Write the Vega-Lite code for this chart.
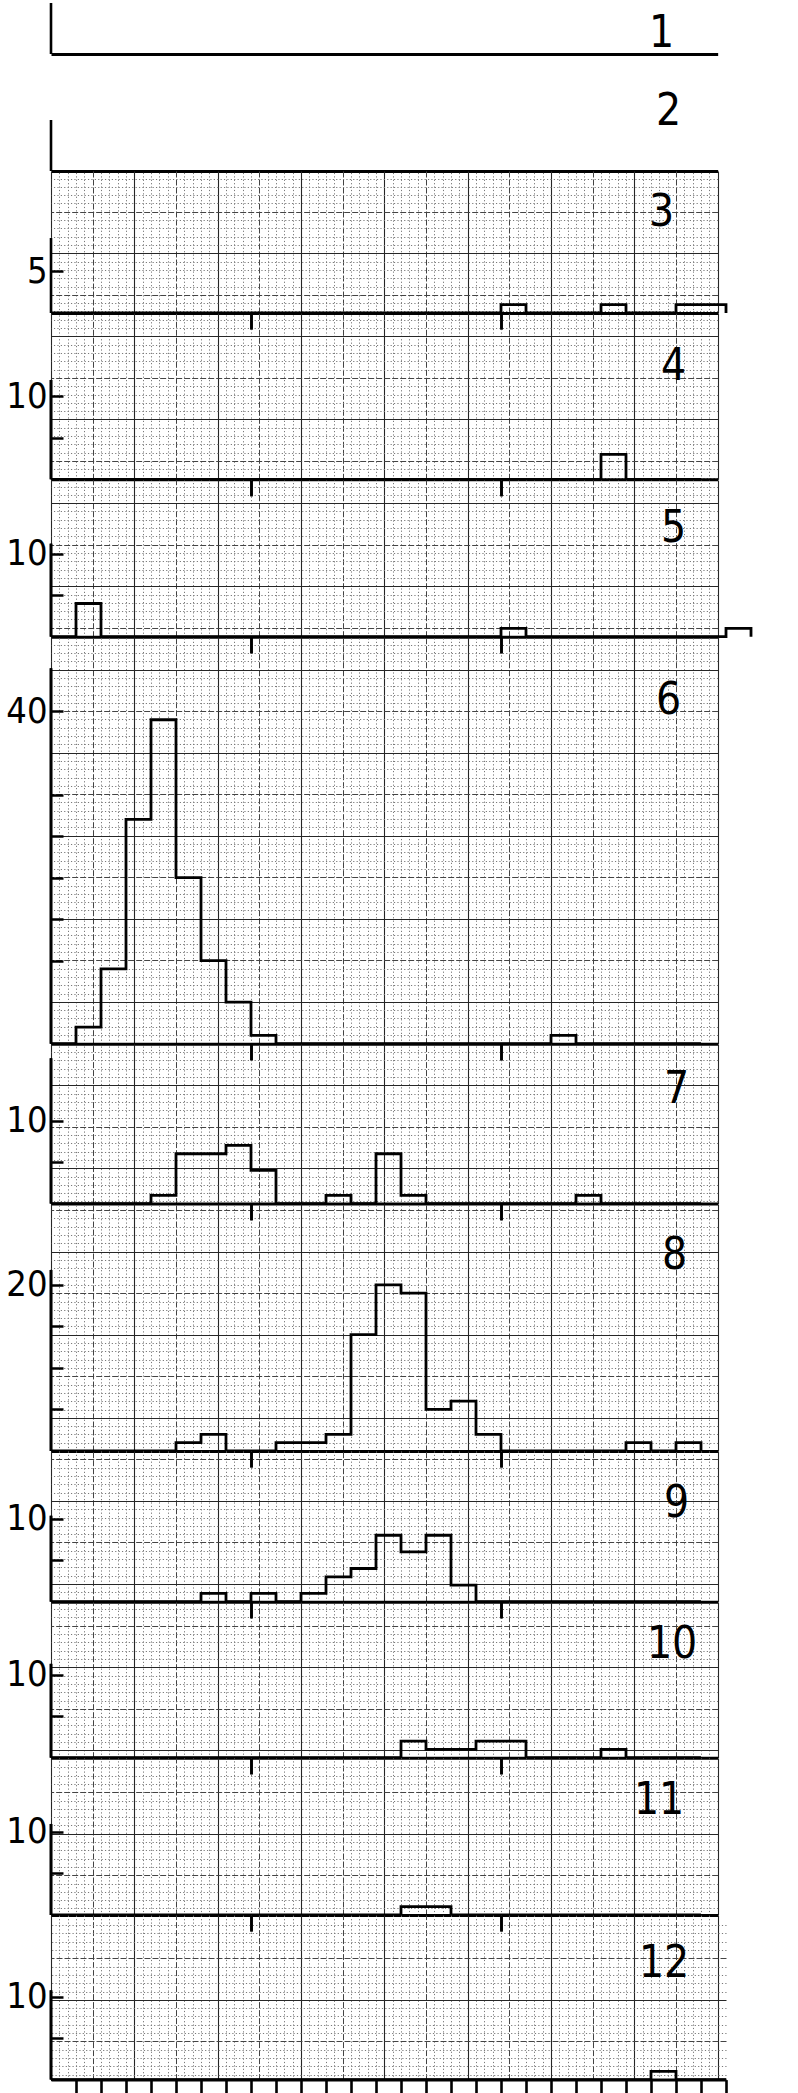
{
  "$schema": "https://vega.github.io/schema/vega-lite/v6.json",
  "background": "white",
  "padding": {"left": 5, "top": 0, "right": 5, "bottom": 0},
  "bounds": "flush",
  "spacing": 0,
  "config": {
    "view": {"stroke": null},
    "axis": {"labelFont": "Liberation Sans Narrow, DejaVu Sans Condensed, sans-serif", "labelFontSize": 36, "labelColor": "black", "labelFontWeight": "normal"},
    "text": {"font": "Liberation Sans Narrow, DejaVu Sans Condensed, sans-serif", "fontSize": 44, "color": "black", "align": "right", "baseline": "middle"}
  },
  "datasets": {
    "hist": [
      {"panel":3,"bin":2,"count":0},{"panel":3,"bin":3,"count":0},{"panel":3,"bin":4,"count":0},{"panel":3,"bin":5,"count":0},{"panel":3,"bin":6,"count":0},{"panel":3,"bin":7,"count":0},{"panel":3,"bin":8,"count":0},{"panel":3,"bin":9,"count":0},{"panel":3,"bin":10,"count":0},{"panel":3,"bin":11,"count":0},{"panel":3,"bin":12,"count":0},{"panel":3,"bin":13,"count":0},{"panel":3,"bin":14,"count":0},{"panel":3,"bin":15,"count":0},{"panel":3,"bin":16,"count":0},{"panel":3,"bin":17,"count":0},{"panel":3,"bin":18,"count":0},{"panel":3,"bin":19,"count":0},{"panel":3,"bin":20,"count":1},{"panel":3,"bin":21,"count":0},{"panel":3,"bin":22,"count":0},{"panel":3,"bin":23,"count":0},{"panel":3,"bin":24,"count":1},{"panel":3,"bin":25,"count":0},{"panel":3,"bin":26,"count":0},{"panel":3,"bin":27,"count":1},{"panel":3,"bin":28,"count":1},{"panel":3,"bin":29,"count":0},
      {"panel":4,"bin":2,"count":0},{"panel":4,"bin":3,"count":0},{"panel":4,"bin":4,"count":0},{"panel":4,"bin":5,"count":0},{"panel":4,"bin":6,"count":0},{"panel":4,"bin":7,"count":0},{"panel":4,"bin":8,"count":0},{"panel":4,"bin":9,"count":0},{"panel":4,"bin":10,"count":0},{"panel":4,"bin":11,"count":0},{"panel":4,"bin":12,"count":0},{"panel":4,"bin":13,"count":0},{"panel":4,"bin":14,"count":0},{"panel":4,"bin":15,"count":0},{"panel":4,"bin":16,"count":0},{"panel":4,"bin":17,"count":0},{"panel":4,"bin":18,"count":0},{"panel":4,"bin":19,"count":0},{"panel":4,"bin":20,"count":0},{"panel":4,"bin":21,"count":0},{"panel":4,"bin":22,"count":0},{"panel":4,"bin":23,"count":0},{"panel":4,"bin":24,"count":3},{"panel":4,"bin":25,"count":0},{"panel":4,"bin":26,"count":0},{"panel":4,"bin":27,"count":0},{"panel":4,"bin":28,"count":0},
      {"panel":5,"bin":2,"count":0},{"panel":5,"bin":3,"count":4},{"panel":5,"bin":4,"count":0},{"panel":5,"bin":5,"count":0},{"panel":5,"bin":6,"count":0},{"panel":5,"bin":7,"count":0},{"panel":5,"bin":8,"count":0},{"panel":5,"bin":9,"count":0},{"panel":5,"bin":10,"count":0},{"panel":5,"bin":11,"count":0},{"panel":5,"bin":12,"count":0},{"panel":5,"bin":13,"count":0},{"panel":5,"bin":14,"count":0},{"panel":5,"bin":15,"count":0},{"panel":5,"bin":16,"count":0},{"panel":5,"bin":17,"count":0},{"panel":5,"bin":18,"count":0},{"panel":5,"bin":19,"count":0},{"panel":5,"bin":20,"count":1},{"panel":5,"bin":21,"count":0},{"panel":5,"bin":22,"count":0},{"panel":5,"bin":23,"count":0},{"panel":5,"bin":24,"count":0},{"panel":5,"bin":25,"count":0},{"panel":5,"bin":26,"count":0},{"panel":5,"bin":27,"count":0},{"panel":5,"bin":28,"count":0},{"panel":5,"bin":29,"count":1},{"panel":5,"bin":30,"count":0},
      {"panel":6,"bin":2,"count":0},{"panel":6,"bin":3,"count":2},{"panel":6,"bin":4,"count":9},{"panel":6,"bin":5,"count":27},{"panel":6,"bin":6,"count":39},{"panel":6,"bin":7,"count":20},{"panel":6,"bin":8,"count":10},{"panel":6,"bin":9,"count":5},{"panel":6,"bin":10,"count":1},{"panel":6,"bin":11,"count":0},{"panel":6,"bin":12,"count":0},{"panel":6,"bin":13,"count":0},{"panel":6,"bin":14,"count":0},{"panel":6,"bin":15,"count":0},{"panel":6,"bin":16,"count":0},{"panel":6,"bin":17,"count":0},{"panel":6,"bin":18,"count":0},{"panel":6,"bin":19,"count":0},{"panel":6,"bin":20,"count":0},{"panel":6,"bin":21,"count":0},{"panel":6,"bin":22,"count":1},{"panel":6,"bin":23,"count":0},{"panel":6,"bin":24,"count":0},{"panel":6,"bin":25,"count":0},{"panel":6,"bin":26,"count":0},{"panel":6,"bin":27,"count":0},{"panel":6,"bin":28,"count":0},
      {"panel":7,"bin":2,"count":0},{"panel":7,"bin":3,"count":0},{"panel":7,"bin":4,"count":0},{"panel":7,"bin":5,"count":0},{"panel":7,"bin":6,"count":1},{"panel":7,"bin":7,"count":6},{"panel":7,"bin":8,"count":6},{"panel":7,"bin":9,"count":7},{"panel":7,"bin":10,"count":4},{"panel":7,"bin":11,"count":0},{"panel":7,"bin":12,"count":0},{"panel":7,"bin":13,"count":1},{"panel":7,"bin":14,"count":0},{"panel":7,"bin":15,"count":6},{"panel":7,"bin":16,"count":1},{"panel":7,"bin":17,"count":0},{"panel":7,"bin":18,"count":0},{"panel":7,"bin":19,"count":0},{"panel":7,"bin":20,"count":0},{"panel":7,"bin":21,"count":0},{"panel":7,"bin":22,"count":0},{"panel":7,"bin":23,"count":1},{"panel":7,"bin":24,"count":0},{"panel":7,"bin":25,"count":0},{"panel":7,"bin":26,"count":0},{"panel":7,"bin":27,"count":0},{"panel":7,"bin":28,"count":0},
      {"panel":8,"bin":2,"count":0},{"panel":8,"bin":3,"count":0},{"panel":8,"bin":4,"count":0},{"panel":8,"bin":5,"count":0},{"panel":8,"bin":6,"count":0},{"panel":8,"bin":7,"count":1},{"panel":8,"bin":8,"count":2},{"panel":8,"bin":9,"count":0},{"panel":8,"bin":10,"count":0},{"panel":8,"bin":11,"count":1},{"panel":8,"bin":12,"count":1},{"panel":8,"bin":13,"count":2},{"panel":8,"bin":14,"count":14},{"panel":8,"bin":15,"count":20},{"panel":8,"bin":16,"count":19},{"panel":8,"bin":17,"count":5},{"panel":8,"bin":18,"count":6},{"panel":8,"bin":19,"count":2},{"panel":8,"bin":20,"count":0},{"panel":8,"bin":21,"count":0},{"panel":8,"bin":22,"count":0},{"panel":8,"bin":23,"count":0},{"panel":8,"bin":24,"count":0},{"panel":8,"bin":25,"count":1},{"panel":8,"bin":26,"count":0},{"panel":8,"bin":27,"count":1},{"panel":8,"bin":28,"count":0},
      {"panel":9,"bin":2,"count":0},{"panel":9,"bin":3,"count":0},{"panel":9,"bin":4,"count":0},{"panel":9,"bin":5,"count":0},{"panel":9,"bin":6,"count":0},{"panel":9,"bin":7,"count":0},{"panel":9,"bin":8,"count":1},{"panel":9,"bin":9,"count":0},{"panel":9,"bin":10,"count":1},{"panel":9,"bin":11,"count":0},{"panel":9,"bin":12,"count":1},{"panel":9,"bin":13,"count":3},{"panel":9,"bin":14,"count":4},{"panel":9,"bin":15,"count":8},{"panel":9,"bin":16,"count":6},{"panel":9,"bin":17,"count":8},{"panel":9,"bin":18,"count":2},{"panel":9,"bin":19,"count":0},{"panel":9,"bin":20,"count":0},{"panel":9,"bin":21,"count":0},{"panel":9,"bin":22,"count":0},{"panel":9,"bin":23,"count":0},{"panel":9,"bin":24,"count":0},{"panel":9,"bin":25,"count":0},{"panel":9,"bin":26,"count":0},{"panel":9,"bin":27,"count":0},{"panel":9,"bin":28,"count":0},
      {"panel":10,"bin":2,"count":0},{"panel":10,"bin":3,"count":0},{"panel":10,"bin":4,"count":0},{"panel":10,"bin":5,"count":0},{"panel":10,"bin":6,"count":0},{"panel":10,"bin":7,"count":0},{"panel":10,"bin":8,"count":0},{"panel":10,"bin":9,"count":0},{"panel":10,"bin":10,"count":0},{"panel":10,"bin":11,"count":0},{"panel":10,"bin":12,"count":0},{"panel":10,"bin":13,"count":0},{"panel":10,"bin":14,"count":0},{"panel":10,"bin":15,"count":0},{"panel":10,"bin":16,"count":2},{"panel":10,"bin":17,"count":1},{"panel":10,"bin":18,"count":1},{"panel":10,"bin":19,"count":2},{"panel":10,"bin":20,"count":2},{"panel":10,"bin":21,"count":0},{"panel":10,"bin":22,"count":0},{"panel":10,"bin":23,"count":0},{"panel":10,"bin":24,"count":1},{"panel":10,"bin":25,"count":0},{"panel":10,"bin":26,"count":0},{"panel":10,"bin":27,"count":0},{"panel":10,"bin":28,"count":0},
      {"panel":11,"bin":2,"count":0},{"panel":11,"bin":3,"count":0},{"panel":11,"bin":4,"count":0},{"panel":11,"bin":5,"count":0},{"panel":11,"bin":6,"count":0},{"panel":11,"bin":7,"count":0},{"panel":11,"bin":8,"count":0},{"panel":11,"bin":9,"count":0},{"panel":11,"bin":10,"count":0},{"panel":11,"bin":11,"count":0},{"panel":11,"bin":12,"count":0},{"panel":11,"bin":13,"count":0},{"panel":11,"bin":14,"count":0},{"panel":11,"bin":15,"count":0},{"panel":11,"bin":16,"count":1},{"panel":11,"bin":17,"count":1},{"panel":11,"bin":18,"count":0},{"panel":11,"bin":19,"count":0},{"panel":11,"bin":20,"count":0},{"panel":11,"bin":21,"count":0},{"panel":11,"bin":22,"count":0},{"panel":11,"bin":23,"count":0},{"panel":11,"bin":24,"count":0},{"panel":11,"bin":25,"count":0},{"panel":11,"bin":26,"count":0},{"panel":11,"bin":27,"count":0},{"panel":11,"bin":28,"count":0},
      {"panel":12,"bin":2,"count":0},{"panel":12,"bin":3,"count":0},{"panel":12,"bin":4,"count":0},{"panel":12,"bin":5,"count":0},{"panel":12,"bin":6,"count":0},{"panel":12,"bin":7,"count":0},{"panel":12,"bin":8,"count":0},{"panel":12,"bin":9,"count":0},{"panel":12,"bin":10,"count":0},{"panel":12,"bin":11,"count":0},{"panel":12,"bin":12,"count":0},{"panel":12,"bin":13,"count":0},{"panel":12,"bin":14,"count":0},{"panel":12,"bin":15,"count":0},{"panel":12,"bin":16,"count":0},{"panel":12,"bin":17,"count":0},{"panel":12,"bin":18,"count":0},{"panel":12,"bin":19,"count":0},{"panel":12,"bin":20,"count":0},{"panel":12,"bin":21,"count":0},{"panel":12,"bin":22,"count":0},{"panel":12,"bin":23,"count":0},{"panel":12,"bin":24,"count":0},{"panel":12,"bin":25,"count":0},{"panel":12,"bin":26,"count":1},{"panel":12,"bin":27,"count":0},{"panel":12,"bin":28,"count":0},{"panel":12,"bin":29,"count":0}
    ]
  },
  "vconcat": [
    {
      "width": 666.67, "height": 54,
      "layer": [
        {
          "data": {"values": [{}]},
          "mark": {"type": "rule", "color": "black", "strokeWidth": 2.6},
          "encoding": {
            "x": {"datum": 2, "type": "quantitative", "scale": {"domain": [2, 28.6667], "nice": false, "zero": false}, "axis": {"orient": "bottom", "ticks": false, "labels": false, "grid": false, "domain": true, "domainWidth": 3, "domainColor": "black", "title": null}},
            "y": {"datum": 0, "type": "quantitative", "scale": {"domain": [0, 6.5013], "nice": false}, "axis": null},
            "y2": {"datum": 6.14}
          }
        },
        {
          "data": {"values": [{}]},
          "mark": {"type": "text"},
          "encoding": {"x": {"datum": 26.93, "type": "quantitative"}, "y": {"datum": 2.41, "type": "quantitative"}, "text": {"value": "1"}}
        }
      ]
    },
    {
      "width": 666.67, "height": 117,
      "layer": [
        {
          "data": {"values": [{}]},
          "mark": {"type": "rule", "color": "black", "strokeWidth": 2.6},
          "encoding": {
            "x": {"datum": 2, "type": "quantitative", "scale": {"domain": [2, 28.6667], "nice": false, "zero": false}, "axis": {"orient": "bottom", "ticks": false, "labels": false, "grid": false, "domain": true, "domainWidth": 3, "domainColor": "black", "title": null}},
            "y": {"datum": 0, "type": "quantitative", "scale": {"domain": [0, 14.0862], "nice": false}, "axis": null},
            "y2": {"datum": 6.14}
          }
        },
        {
          "data": {"values": [{}]},
          "mark": {"type": "text"},
          "encoding": {"x": {"datum": 27.21, "type": "quantitative"}, "y": {"datum": 7.14, "type": "quantitative"}, "text": {"value": "2"}}
        }
      ]
    },
    {
      "width": 666.67, "height": 142,
      "layer": [
        {
          "data": {"name": "hist"}, "transform": [{"filter": "datum.panel == 3"}],
          "mark": {"type": "line", "interpolate": "step-after", "color": "black", "strokeWidth": 2.8},
          "encoding": {
            "x": {"field": "bin", "type": "quantitative", "scale": {"domain": [2, 28.6667], "nice": false, "zero": false},
              "axis": {"orient": "top", "values": [2,2.3333,2.6667,3,3.3333,3.6667,4,4.3333,4.6667,5,5.3333,5.6667,6,6.3333,6.6667,7,7.3333,7.6667,8,8.3333,8.6667,9,9.3333,9.6667,10,10.3333,10.6667,11,11.3333,11.6667,12,12.3333,12.6667,13,13.3333,13.6667,14,14.3333,14.6667,15,15.3333,15.6667,16,16.3333,16.6667,17,17.3333,17.6667,18,18.3333,18.6667,19,19.3333,19.6667,20,20.3333,20.6667,21,21.3333,21.6667,22,22.3333,22.6667,23,23.3333,23.6667,24,24.3333,24.6667,25,25.3333,25.6667,26,26.3333,26.6667,27,27.3333,27.6667,28,28.3333,28.6667], "grid": true, "ticks": false, "labels": false, "domain": false, "title": null,
                "gridColor": {"condition": [{"test": "round((datum.value-2)*3)%10==0", "value": "#262626"}, {"test": "round((datum.value-2)*3)%5==0", "value": "#444444"}], "value": "#7a7a7a"},
                "gridDash": {"condition": [{"test": "round((datum.value-2)*3)%10==0", "value": []}, {"test": "round((datum.value-2)*3)%5==0", "value": [6, 2]}], "value": [1.2, 2.2]},
                "gridWidth": {"condition": {"test": "round((datum.value-2)*3)%10==0", "value": 1.1}, "value": 1}}},
            "y": {"field": "count", "type": "quantitative", "scale": {"domain": [0, 17.0961], "nice": false},
              "axis": {"orient": "right", "values": [0.1876,1.1876,2.1876,3.1876,4.1876,5.1876,6.1876,7.1876,8.1876,9.1876,10.1876,11.1876,12.1876,13.1876,14.1876,15.1876,16.1876], "grid": true, "ticks": false, "labels": false, "domain": false, "title": null,
                "gridColor": {"condition": [{"test": "round(7.1876-datum.value)%10==0", "value": "#262626"}, {"test": "round(7.1876-datum.value)%5==0", "value": "#444444"}], "value": "#7a7a7a"},
                "gridDash": {"condition": [{"test": "round(7.1876-datum.value)%10==0", "value": []}, {"test": "round(7.1876-datum.value)%5==0", "value": [6, 2]}], "value": [1.2, 2.2]},
                "gridWidth": {"condition": {"test": "round(7.1876-datum.value)%10==0", "value": 1.1}, "value": 1}}}
          }
        },
        {
          "data": {"values": [{}]},
          "mark": {"type": "rule", "color": "black", "strokeWidth": 2.6},
          "encoding": {
            "x": {"datum": 2, "type": "quantitative", "scale": {"domain": [2, 28.6667], "nice": false, "zero": false}, "axis": {"orient": "bottom", "values": [10, 20], "labels": false, "tickSize": 16, "tickWidth": 2.6, "tickColor": "black", "grid": false, "domain": true, "domainWidth": 3, "domainColor": "black", "title": null, "zindex": 1}},
            "y": {"datum": 0, "type": "quantitative", "scale": {"domain": [0, 17.0961], "nice": false}, "axis": {"orient": "left", "values": [5], "labelExpr": "datum.value == 5 ? datum.label : ''", "tickSize": -12, "tickWidth": 2.5, "tickColor": "black", "domain": false, "grid": false, "labelPadding": 16, "title": null, "zindex": 1}},
            "y2": {"datum": 9.03}
          }
        },
        {
          "data": {"values": [{}]},
          "mark": {"type": "text"},
          "encoding": {"x": {"datum": 26.93, "type": "quantitative", "axis": null}, "y": {"datum": 12.0, "type": "quantitative", "axis": null}, "text": {"value": "3"}}
        }
      ],
      "resolve": {"axis": {"x": "independent", "y": "independent"}}
    },
    {
      "width": 666.67, "height": 166.3,
      "layer": [
        {
          "data": {"name": "hist"}, "transform": [{"filter": "datum.panel == 4"}],
          "mark": {"type": "line", "interpolate": "step-after", "color": "black", "strokeWidth": 2.8},
          "encoding": {
            "x": {"field": "bin", "type": "quantitative", "scale": {"domain": [2, 28.6667], "nice": false, "zero": false},
              "axis": {"orient": "top", "values": [2,2.3333,2.6667,3,3.3333,3.6667,4,4.3333,4.6667,5,5.3333,5.6667,6,6.3333,6.6667,7,7.3333,7.6667,8,8.3333,8.6667,9,9.3333,9.6667,10,10.3333,10.6667,11,11.3333,11.6667,12,12.3333,12.6667,13,13.3333,13.6667,14,14.3333,14.6667,15,15.3333,15.6667,16,16.3333,16.6667,17,17.3333,17.6667,18,18.3333,18.6667,19,19.3333,19.6667,20,20.3333,20.6667,21,21.3333,21.6667,22,22.3333,22.6667,23,23.3333,23.6667,24,24.3333,24.6667,25,25.3333,25.6667,26,26.3333,26.6667,27,27.3333,27.6667,28,28.3333,28.6667], "grid": true, "ticks": false, "labels": false, "domain": false, "title": null,
                "gridColor": {"condition": [{"test": "round((datum.value-2)*3)%10==0", "value": "#262626"}, {"test": "round((datum.value-2)*3)%5==0", "value": "#444444"}], "value": "#7a7a7a"},
                "gridDash": {"condition": [{"test": "round((datum.value-2)*3)%10==0", "value": []}, {"test": "round((datum.value-2)*3)%5==0", "value": [6, 2]}], "value": [1.2, 2.2]},
                "gridWidth": {"condition": {"test": "round((datum.value-2)*3)%10==0", "value": 1.1}, "value": 1}}},
            "y": {"field": "count", "type": "quantitative", "scale": {"domain": [0, 20.0217], "nice": false},
              "axis": {"orient": "right", "values": [0.2093,1.2093,2.2093,3.2093,4.2093,5.2093,6.2093,7.2093,8.2093,9.2093,10.2093,11.2093,12.2093,13.2093,14.2093,15.2093,16.2093,17.2093,18.2093,19.2093], "grid": true, "ticks": false, "labels": false, "domain": false, "title": null,
                "gridColor": {"condition": [{"test": "round(27.2093-datum.value)%10==0", "value": "#262626"}, {"test": "round(27.2093-datum.value)%5==0", "value": "#444444"}], "value": "#7a7a7a"},
                "gridDash": {"condition": [{"test": "round(27.2093-datum.value)%10==0", "value": []}, {"test": "round(27.2093-datum.value)%5==0", "value": [6, 2]}], "value": [1.2, 2.2]},
                "gridWidth": {"condition": {"test": "round(27.2093-datum.value)%10==0", "value": 1.1}, "value": 1}}}
          }
        },
        {
          "data": {"values": [{}]},
          "mark": {"type": "rule", "color": "black", "strokeWidth": 2.6},
          "encoding": {
            "x": {"datum": 2, "type": "quantitative", "scale": {"domain": [2, 28.6667], "nice": false, "zero": false}, "axis": {"orient": "bottom", "values": [10, 20], "labels": false, "tickSize": 16, "tickWidth": 2.6, "tickColor": "black", "grid": false, "domain": true, "domainWidth": 3, "domainColor": "black", "title": null, "zindex": 1}},
            "y": {"datum": 0, "type": "quantitative", "scale": {"domain": [0, 20.0217], "nice": false}, "axis": {"orient": "left", "values": [5, 10], "labelExpr": "datum.value == 10 ? datum.label : ''", "tickSize": -12, "tickWidth": 2.5, "tickColor": "black", "domain": false, "grid": false, "labelPadding": 16, "title": null, "zindex": 1}},
            "y2": {"datum": 11.96}
          }
        },
        {
          "data": {"values": [{}]},
          "mark": {"type": "rule", "color": "black", "strokeWidth": 2.6},
          "encoding": {
            "x": {"datum": 2, "type": "quantitative", "scale": {"domain": [2, 28.6667], "nice": false, "zero": false}, "axis": {"orient": "top", "values": [10, 20], "labels": false, "tickSize": -16, "tickWidth": 2.6, "tickColor": "black", "grid": false, "domain": false, "title": null, "zindex": 1}},
            "y": {"datum": 0, "type": "quantitative", "scale": {"domain": [0, 20.0217], "nice": false}, "axis": null},
            "y2": {"datum": 11.96}
          }
        },
        {
          "data": {"values": [{}]},
          "mark": {"type": "text"},
          "encoding": {"x": {"datum": 27.41, "type": "quantitative", "axis": null}, "y": {"datum": 13.56, "type": "quantitative", "axis": null}, "text": {"value": "4"}}
        }
      ],
      "resolve": {"axis": {"x": "independent", "y": "independent"}}
    },
    {
      "width": 666.67, "height": 156.7,
      "layer": [
        {
          "data": {"name": "hist"}, "transform": [{"filter": "datum.panel == 5"}],
          "mark": {"type": "line", "interpolate": "step-after", "color": "black", "strokeWidth": 2.8},
          "encoding": {
            "x": {"field": "bin", "type": "quantitative", "scale": {"domain": [2, 28.6667], "nice": false, "zero": false},
              "axis": {"orient": "top", "values": [2,2.3333,2.6667,3,3.3333,3.6667,4,4.3333,4.6667,5,5.3333,5.6667,6,6.3333,6.6667,7,7.3333,7.6667,8,8.3333,8.6667,9,9.3333,9.6667,10,10.3333,10.6667,11,11.3333,11.6667,12,12.3333,12.6667,13,13.3333,13.6667,14,14.3333,14.6667,15,15.3333,15.6667,16,16.3333,16.6667,17,17.3333,17.6667,18,18.3333,18.6667,19,19.3333,19.6667,20,20.3333,20.6667,21,21.3333,21.6667,22,22.3333,22.6667,23,23.3333,23.6667,24,24.3333,24.6667,25,25.3333,25.6667,26,26.3333,26.6667,27,27.3333,27.6667,28,28.3333,28.6667], "grid": true, "ticks": false, "labels": false, "domain": false, "title": null,
                "gridColor": {"condition": [{"test": "round((datum.value-2)*3)%10==0", "value": "#262626"}, {"test": "round((datum.value-2)*3)%5==0", "value": "#444444"}], "value": "#7a7a7a"},
                "gridDash": {"condition": [{"test": "round((datum.value-2)*3)%10==0", "value": []}, {"test": "round((datum.value-2)*3)%5==0", "value": [6, 2]}], "value": [1.2, 2.2]},
                "gridWidth": {"condition": {"test": "round((datum.value-2)*3)%10==0", "value": 1.1}, "value": 1}}},
            "y": {"field": "count", "type": "quantitative", "scale": {"domain": [0, 18.8659], "nice": false},
              "axis": {"orient": "right", "values": [0.0751,1.0751,2.0751,3.0751,4.0751,5.0751,6.0751,7.0751,8.0751,9.0751,10.0751,11.0751,12.0751,13.0751,14.0751,15.0751,16.0751,17.0751,18.0751], "grid": true, "ticks": false, "labels": false, "domain": false, "title": null,
                "gridColor": {"condition": [{"test": "round(46.0751-datum.value)%10==0", "value": "#262626"}, {"test": "round(46.0751-datum.value)%5==0", "value": "#444444"}], "value": "#7a7a7a"},
                "gridDash": {"condition": [{"test": "round(46.0751-datum.value)%10==0", "value": []}, {"test": "round(46.0751-datum.value)%5==0", "value": [6, 2]}], "value": [1.2, 2.2]},
                "gridWidth": {"condition": {"test": "round(46.0751-datum.value)%10==0", "value": 1.1}, "value": 1}}}
          }
        },
        {
          "data": {"values": [{}]},
          "mark": {"type": "rule", "color": "black", "strokeWidth": 2.6},
          "encoding": {
            "x": {"datum": 2, "type": "quantitative", "scale": {"domain": [2, 28.6667], "nice": false, "zero": false}, "axis": {"orient": "bottom", "values": [10, 20], "labels": false, "tickSize": 16, "tickWidth": 2.6, "tickColor": "black", "grid": false, "domain": true, "domainWidth": 3, "domainColor": "black", "title": null, "zindex": 1}},
            "y": {"datum": 0, "type": "quantitative", "scale": {"domain": [0, 18.8659], "nice": false}, "axis": {"orient": "left", "values": [5, 10], "labelExpr": "datum.value == 10 ? datum.label : ''", "tickSize": -12, "tickWidth": 2.5, "tickColor": "black", "domain": false, "grid": false, "labelPadding": 16, "title": null, "zindex": 1}},
            "y2": {"datum": 11.2}
          }
        },
        {
          "data": {"values": [{}]},
          "mark": {"type": "rule", "color": "black", "strokeWidth": 2.6},
          "encoding": {
            "x": {"datum": 2, "type": "quantitative", "scale": {"domain": [2, 28.6667], "nice": false, "zero": false}, "axis": {"orient": "top", "values": [10, 20], "labels": false, "tickSize": -16, "tickWidth": 2.6, "tickColor": "black", "grid": false, "domain": false, "title": null, "zindex": 1}},
            "y": {"datum": 0, "type": "quantitative", "scale": {"domain": [0, 18.8659], "nice": false}, "axis": null},
            "y2": {"datum": 11.2}
          }
        },
        {
          "data": {"values": [{}]},
          "mark": {"type": "text"},
          "encoding": {"x": {"datum": 27.41, "type": "quantitative", "axis": null}, "y": {"datum": 12.97, "type": "quantitative", "axis": null}, "text": {"value": "5"}}
        }
      ],
      "resolve": {"axis": {"x": "independent", "y": "independent"}}
    },
    {
      "width": 666.67, "height": 406.7,
      "layer": [
        {
          "data": {"name": "hist"}, "transform": [{"filter": "datum.panel == 6"}],
          "mark": {"type": "line", "interpolate": "step-after", "color": "black", "strokeWidth": 2.8},
          "encoding": {
            "x": {"field": "bin", "type": "quantitative", "scale": {"domain": [2, 28.6667], "nice": false, "zero": false},
              "axis": {"orient": "top", "values": [2,2.3333,2.6667,3,3.3333,3.6667,4,4.3333,4.6667,5,5.3333,5.6667,6,6.3333,6.6667,7,7.3333,7.6667,8,8.3333,8.6667,9,9.3333,9.6667,10,10.3333,10.6667,11,11.3333,11.6667,12,12.3333,12.6667,13,13.3333,13.6667,14,14.3333,14.6667,15,15.3333,15.6667,16,16.3333,16.6667,17,17.3333,17.6667,18,18.3333,18.6667,19,19.3333,19.6667,20,20.3333,20.6667,21,21.3333,21.6667,22,22.3333,22.6667,23,23.3333,23.6667,24,24.3333,24.6667,25,25.3333,25.6667,26,26.3333,26.6667,27,27.3333,27.6667,28,28.3333,28.6667], "grid": true, "ticks": false, "labels": false, "domain": false, "title": null,
                "gridColor": {"condition": [{"test": "round((datum.value-2)*3)%10==0", "value": "#262626"}, {"test": "round((datum.value-2)*3)%5==0", "value": "#444444"}], "value": "#7a7a7a"},
                "gridDash": {"condition": [{"test": "round((datum.value-2)*3)%10==0", "value": []}, {"test": "round((datum.value-2)*3)%5==0", "value": [6, 2]}], "value": [1.2, 2.2]},
                "gridWidth": {"condition": {"test": "round((datum.value-2)*3)%10==0", "value": 1.1}, "value": 1}}},
            "y": {"field": "count", "type": "quantitative", "scale": {"domain": [0, 48.9646], "nice": false},
              "axis": {"orient": "right", "values": [0.0397,1.0397,2.0397,3.0397,4.0397,5.0397,6.0397,7.0397,8.0397,9.0397,10.0397,11.0397,12.0397,13.0397,14.0397,15.0397,16.0397,17.0397,18.0397,19.0397,20.0397,21.0397,22.0397,23.0397,24.0397,25.0397,26.0397,27.0397,28.0397,29.0397,30.0397,31.0397,32.0397,33.0397,34.0397,35.0397,36.0397,37.0397,38.0397,39.0397,40.0397,41.0397,42.0397,43.0397,44.0397,45.0397,46.0397,47.0397,48.0397], "grid": true, "ticks": false, "labels": false, "domain": false, "title": null,
                "gridColor": {"condition": [{"test": "round(95.0397-datum.value)%10==0", "value": "#262626"}, {"test": "round(95.0397-datum.value)%5==0", "value": "#444444"}], "value": "#7a7a7a"},
                "gridDash": {"condition": [{"test": "round(95.0397-datum.value)%10==0", "value": []}, {"test": "round(95.0397-datum.value)%5==0", "value": [6, 2]}], "value": [1.2, 2.2]},
                "gridWidth": {"condition": {"test": "round(95.0397-datum.value)%10==0", "value": 1.1}, "value": 1}}}
          }
        },
        {
          "data": {"values": [{}]},
          "mark": {"type": "rule", "color": "black", "strokeWidth": 2.6},
          "encoding": {
            "x": {"datum": 2, "type": "quantitative", "scale": {"domain": [2, 28.6667], "nice": false, "zero": false}, "axis": {"orient": "bottom", "values": [10, 20], "labels": false, "tickSize": 16, "tickWidth": 2.6, "tickColor": "black", "grid": false, "domain": true, "domainWidth": 3, "domainColor": "black", "title": null, "zindex": 1}},
            "y": {"datum": 0, "type": "quantitative", "scale": {"domain": [0, 48.9646], "nice": false}, "axis": {"orient": "left", "values": [10, 15, 20, 25, 30, 40], "labelExpr": "datum.value == 40 ? datum.label : ''", "tickSize": -12, "tickWidth": 2.5, "tickColor": "black", "domain": false, "grid": false, "labelPadding": 16, "title": null, "zindex": 1}},
            "y2": {"datum": 45.2}
          }
        },
        {
          "data": {"values": [{}]},
          "mark": {"type": "rule", "color": "black", "strokeWidth": 2.6},
          "encoding": {
            "x": {"datum": 2, "type": "quantitative", "scale": {"domain": [2, 28.6667], "nice": false, "zero": false}, "axis": {"orient": "top", "values": [10, 20], "labels": false, "tickSize": -16, "tickWidth": 2.6, "tickColor": "black", "grid": false, "domain": false, "title": null, "zindex": 1}},
            "y": {"datum": 0, "type": "quantitative", "scale": {"domain": [0, 48.9646], "nice": false}, "axis": null},
            "y2": {"datum": 45.2}
          }
        },
        {
          "data": {"values": [{}]},
          "mark": {"type": "text"},
          "encoding": {"x": {"datum": 27.21, "type": "quantitative", "axis": null}, "y": {"datum": 41.26, "type": "quantitative", "axis": null}, "text": {"value": "6"}}
        }
      ],
      "resolve": {"axis": {"x": "independent", "y": "independent"}}
    },
    {
      "width": 666.67, "height": 159.6,
      "layer": [
        {
          "data": {"name": "hist"}, "transform": [{"filter": "datum.panel == 7"}],
          "mark": {"type": "line", "interpolate": "step-after", "color": "black", "strokeWidth": 2.8},
          "encoding": {
            "x": {"field": "bin", "type": "quantitative", "scale": {"domain": [2, 28.6667], "nice": false, "zero": false},
              "axis": {"orient": "top", "values": [2,2.3333,2.6667,3,3.3333,3.6667,4,4.3333,4.6667,5,5.3333,5.6667,6,6.3333,6.6667,7,7.3333,7.6667,8,8.3333,8.6667,9,9.3333,9.6667,10,10.3333,10.6667,11,11.3333,11.6667,12,12.3333,12.6667,13,13.3333,13.6667,14,14.3333,14.6667,15,15.3333,15.6667,16,16.3333,16.6667,17,17.3333,17.6667,18,18.3333,18.6667,19,19.3333,19.6667,20,20.3333,20.6667,21,21.3333,21.6667,22,22.3333,22.6667,23,23.3333,23.6667,24,24.3333,24.6667,25,25.3333,25.6667,26,26.3333,26.6667,27,27.3333,27.6667,28,28.3333,28.6667], "grid": true, "ticks": false, "labels": false, "domain": false, "title": null,
                "gridColor": {"condition": [{"test": "round((datum.value-2)*3)%10==0", "value": "#262626"}, {"test": "round((datum.value-2)*3)%5==0", "value": "#444444"}], "value": "#7a7a7a"},
                "gridDash": {"condition": [{"test": "round((datum.value-2)*3)%10==0", "value": []}, {"test": "round((datum.value-2)*3)%5==0", "value": [6, 2]}], "value": [1.2, 2.2]},
                "gridWidth": {"condition": {"test": "round((datum.value-2)*3)%10==0", "value": 1.1}, "value": 1}}},
            "y": {"field": "count", "type": "quantitative", "scale": {"domain": [0, 19.215], "nice": false},
              "axis": {"orient": "right", "values": [0.2547,1.2547,2.2547,3.2547,4.2547,5.2547,6.2547,7.2547,8.2547,9.2547,10.2547,11.2547,12.2547,13.2547,14.2547,15.2547,16.2547,17.2547,18.2547], "grid": true, "ticks": false, "labels": false, "domain": false, "title": null,
                "gridColor": {"condition": [{"test": "round(114.2547-datum.value)%10==0", "value": "#262626"}, {"test": "round(114.2547-datum.value)%5==0", "value": "#444444"}], "value": "#7a7a7a"},
                "gridDash": {"condition": [{"test": "round(114.2547-datum.value)%10==0", "value": []}, {"test": "round(114.2547-datum.value)%5==0", "value": [6, 2]}], "value": [1.2, 2.2]},
                "gridWidth": {"condition": {"test": "round(114.2547-datum.value)%10==0", "value": 1.1}, "value": 1}}}
          }
        },
        {
          "data": {"values": [{}]},
          "mark": {"type": "rule", "color": "black", "strokeWidth": 2.6},
          "encoding": {
            "x": {"datum": 2, "type": "quantitative", "scale": {"domain": [2, 28.6667], "nice": false, "zero": false}, "axis": {"orient": "bottom", "values": [10, 20], "labels": false, "tickSize": 16, "tickWidth": 2.6, "tickColor": "black", "grid": false, "domain": true, "domainWidth": 3, "domainColor": "black", "title": null, "zindex": 1}},
            "y": {"datum": 0, "type": "quantitative", "scale": {"domain": [0, 19.215], "nice": false}, "axis": {"orient": "left", "values": [5, 10], "labelExpr": "datum.value == 10 ? datum.label : ''", "tickSize": -12, "tickWidth": 2.5, "tickColor": "black", "domain": false, "grid": false, "labelPadding": 16, "title": null, "zindex": 1}},
            "y2": {"datum": 17.5}
          }
        },
        {
          "data": {"values": [{}]},
          "mark": {"type": "rule", "color": "black", "strokeWidth": 2.6},
          "encoding": {
            "x": {"datum": 2, "type": "quantitative", "scale": {"domain": [2, 28.6667], "nice": false, "zero": false}, "axis": {"orient": "top", "values": [10, 20], "labels": false, "tickSize": -16, "tickWidth": 2.6, "tickColor": "black", "grid": false, "domain": false, "title": null, "zindex": 1}},
            "y": {"datum": 0, "type": "quantitative", "scale": {"domain": [0, 19.215], "nice": false}, "axis": null},
            "y2": {"datum": 17.5}
          }
        },
        {
          "data": {"values": [{}]},
          "mark": {"type": "text"},
          "encoding": {"x": {"datum": 27.53, "type": "quantitative", "axis": null}, "y": {"datum": 13.64, "type": "quantitative", "axis": null}, "text": {"value": "7"}}
        }
      ],
      "resolve": {"axis": {"x": "independent", "y": "independent"}}
    },
    {
      "width": 666.67, "height": 247,
      "layer": [
        {
          "data": {"name": "hist"}, "transform": [{"filter": "datum.panel == 8"}],
          "mark": {"type": "line", "interpolate": "step-after", "color": "black", "strokeWidth": 2.8},
          "encoding": {
            "x": {"field": "bin", "type": "quantitative", "scale": {"domain": [2, 28.6667], "nice": false, "zero": false},
              "axis": {"orient": "top", "values": [2,2.3333,2.6667,3,3.3333,3.6667,4,4.3333,4.6667,5,5.3333,5.6667,6,6.3333,6.6667,7,7.3333,7.6667,8,8.3333,8.6667,9,9.3333,9.6667,10,10.3333,10.6667,11,11.3333,11.6667,12,12.3333,12.6667,13,13.3333,13.6667,14,14.3333,14.6667,15,15.3333,15.6667,16,16.3333,16.6667,17,17.3333,17.6667,18,18.3333,18.6667,19,19.3333,19.6667,20,20.3333,20.6667,21,21.3333,21.6667,22,22.3333,22.6667,23,23.3333,23.6667,24,24.3333,24.6667,25,25.3333,25.6667,26,26.3333,26.6667,27,27.3333,27.6667,28,28.3333,28.6667], "grid": true, "ticks": false, "labels": false, "domain": false, "title": null,
                "gridColor": {"condition": [{"test": "round((datum.value-2)*3)%10==0", "value": "#262626"}, {"test": "round((datum.value-2)*3)%5==0", "value": "#444444"}], "value": "#7a7a7a"},
                "gridDash": {"condition": [{"test": "round((datum.value-2)*3)%10==0", "value": []}, {"test": "round((datum.value-2)*3)%5==0", "value": [6, 2]}], "value": [1.2, 2.2]},
                "gridWidth": {"condition": {"test": "round((datum.value-2)*3)%10==0", "value": 1.1}, "value": 1}}},
            "y": {"field": "count", "type": "quantitative", "scale": {"domain": [0, 29.7375], "nice": false},
              "axis": {"orient": "right", "values": [0.9923,1.9923,2.9923,3.9923,4.9923,5.9923,6.9923,7.9923,8.9923,9.9923,10.9923,11.9923,12.9923,13.9923,14.9923,15.9923,16.9923,17.9923,18.9923,19.9923,20.9923,21.9923,22.9923,23.9923,24.9923,25.9923,26.9923,27.9923,28.9923], "grid": true, "ticks": false, "labels": false, "domain": false, "title": null,
                "gridColor": {"condition": [{"test": "round(143.9923-datum.value)%10==0", "value": "#262626"}, {"test": "round(143.9923-datum.value)%5==0", "value": "#444444"}], "value": "#7a7a7a"},
                "gridDash": {"condition": [{"test": "round(143.9923-datum.value)%10==0", "value": []}, {"test": "round(143.9923-datum.value)%5==0", "value": [6, 2]}], "value": [1.2, 2.2]},
                "gridWidth": {"condition": {"test": "round(143.9923-datum.value)%10==0", "value": 1.1}, "value": 1}}}
          }
        },
        {
          "data": {"values": [{}]},
          "mark": {"type": "rule", "color": "black", "strokeWidth": 2.6},
          "encoding": {
            "x": {"datum": 2, "type": "quantitative", "scale": {"domain": [2, 28.6667], "nice": false, "zero": false}, "axis": {"orient": "bottom", "values": [10, 20], "labels": false, "tickSize": 16, "tickWidth": 2.6, "tickColor": "black", "grid": false, "domain": true, "domainWidth": 3, "domainColor": "black", "title": null, "zindex": 1}},
            "y": {"datum": 0, "type": "quantitative", "scale": {"domain": [0, 29.7375], "nice": false}, "axis": {"orient": "left", "values": [5, 10, 15, 20], "labelExpr": "datum.value == 20 ? datum.label : ''", "tickSize": -12, "tickWidth": 2.5, "tickColor": "black", "domain": false, "grid": false, "labelPadding": 16, "title": null, "zindex": 1}},
            "y2": {"datum": 21.8}
          }
        },
        {
          "data": {"values": [{}]},
          "mark": {"type": "rule", "color": "black", "strokeWidth": 2.6},
          "encoding": {
            "x": {"datum": 2, "type": "quantitative", "scale": {"domain": [2, 28.6667], "nice": false, "zero": false}, "axis": {"orient": "top", "values": [10, 20], "labels": false, "tickSize": -16, "tickWidth": 2.6, "tickColor": "black", "grid": false, "domain": false, "title": null, "zindex": 1}},
            "y": {"datum": 0, "type": "quantitative", "scale": {"domain": [0, 29.7375], "nice": false}, "axis": null},
            "y2": {"datum": 21.8}
          }
        },
        {
          "data": {"values": [{}]},
          "mark": {"type": "text"},
          "encoding": {"x": {"datum": 27.45, "type": "quantitative", "axis": null}, "y": {"datum": 23.51, "type": "quantitative", "axis": null}, "text": {"value": "8"}}
        }
      ],
      "resolve": {"axis": {"x": "independent", "y": "independent"}}
    },
    {
      "width": 666.67, "height": 150.7,
      "layer": [
        {
          "data": {"name": "hist"}, "transform": [{"filter": "datum.panel == 9"}],
          "mark": {"type": "line", "interpolate": "step-after", "color": "black", "strokeWidth": 2.8},
          "encoding": {
            "x": {"field": "bin", "type": "quantitative", "scale": {"domain": [2, 28.6667], "nice": false, "zero": false},
              "axis": {"orient": "top", "values": [2,2.3333,2.6667,3,3.3333,3.6667,4,4.3333,4.6667,5,5.3333,5.6667,6,6.3333,6.6667,7,7.3333,7.6667,8,8.3333,8.6667,9,9.3333,9.6667,10,10.3333,10.6667,11,11.3333,11.6667,12,12.3333,12.6667,13,13.3333,13.6667,14,14.3333,14.6667,15,15.3333,15.6667,16,16.3333,16.6667,17,17.3333,17.6667,18,18.3333,18.6667,19,19.3333,19.6667,20,20.3333,20.6667,21,21.3333,21.6667,22,22.3333,22.6667,23,23.3333,23.6667,24,24.3333,24.6667,25,25.3333,25.6667,26,26.3333,26.6667,27,27.3333,27.6667,28,28.3333,28.6667], "grid": true, "ticks": false, "labels": false, "domain": false, "title": null,
                "gridColor": {"condition": [{"test": "round((datum.value-2)*3)%10==0", "value": "#262626"}, {"test": "round((datum.value-2)*3)%5==0", "value": "#444444"}], "value": "#7a7a7a"},
                "gridDash": {"condition": [{"test": "round((datum.value-2)*3)%10==0", "value": []}, {"test": "round((datum.value-2)*3)%5==0", "value": [6, 2]}], "value": [1.2, 2.2]},
                "gridWidth": {"condition": {"test": "round((datum.value-2)*3)%10==0", "value": 1.1}, "value": 1}}},
            "y": {"field": "count", "type": "quantitative", "scale": {"domain": [0, 18.1435], "nice": false},
              "axis": {"orient": "right", "values": [0.1358,1.1358,2.1358,3.1358,4.1358,5.1358,6.1358,7.1358,8.1358,9.1358,10.1358,11.1358,12.1358,13.1358,14.1358,15.1358,16.1358,17.1358], "grid": true, "ticks": false, "labels": false, "domain": false, "title": null,
                "gridColor": {"condition": [{"test": "round(162.1358-datum.value)%10==0", "value": "#262626"}, {"test": "round(162.1358-datum.value)%5==0", "value": "#444444"}], "value": "#7a7a7a"},
                "gridDash": {"condition": [{"test": "round(162.1358-datum.value)%10==0", "value": []}, {"test": "round(162.1358-datum.value)%5==0", "value": [6, 2]}], "value": [1.2, 2.2]},
                "gridWidth": {"condition": {"test": "round(162.1358-datum.value)%10==0", "value": 1.1}, "value": 1}}}
          }
        },
        {
          "data": {"values": [{}]},
          "mark": {"type": "rule", "color": "black", "strokeWidth": 2.6},
          "encoding": {
            "x": {"datum": 2, "type": "quantitative", "scale": {"domain": [2, 28.6667], "nice": false, "zero": false}, "axis": {"orient": "bottom", "values": [10, 20], "labels": false, "tickSize": 16, "tickWidth": 2.6, "tickColor": "black", "grid": false, "domain": true, "domainWidth": 3, "domainColor": "black", "title": null, "zindex": 1}},
            "y": {"datum": 0, "type": "quantitative", "scale": {"domain": [0, 18.1435], "nice": false}, "axis": {"orient": "left", "values": [5, 10], "labelExpr": "datum.value == 10 ? datum.label : ''", "tickSize": -12, "tickWidth": 2.5, "tickColor": "black", "domain": false, "grid": false, "labelPadding": 16, "title": null, "zindex": 1}},
            "y2": {"datum": 10.35}
          }
        },
        {
          "data": {"values": [{}]},
          "mark": {"type": "rule", "color": "black", "strokeWidth": 2.6},
          "encoding": {
            "x": {"datum": 2, "type": "quantitative", "scale": {"domain": [2, 28.6667], "nice": false, "zero": false}, "axis": {"orient": "top", "values": [10, 20], "labels": false, "tickSize": -16, "tickWidth": 2.6, "tickColor": "black", "grid": false, "domain": false, "title": null, "zindex": 1}},
            "y": {"datum": 0, "type": "quantitative", "scale": {"domain": [0, 18.1435], "nice": false}, "axis": null},
            "y2": {"datum": 10.35}
          }
        },
        {
          "data": {"values": [{}]},
          "mark": {"type": "text"},
          "encoding": {"x": {"datum": 27.53, "type": "quantitative", "axis": null}, "y": {"datum": 11.74, "type": "quantitative", "axis": null}, "text": {"value": "9"}}
        }
      ],
      "resolve": {"axis": {"x": "independent", "y": "independent"}}
    },
    {
      "width": 666.67, "height": 155.7,
      "layer": [
        {
          "data": {"name": "hist"}, "transform": [{"filter": "datum.panel == 10"}],
          "mark": {"type": "line", "interpolate": "step-after", "color": "black", "strokeWidth": 2.8},
          "encoding": {
            "x": {"field": "bin", "type": "quantitative", "scale": {"domain": [2, 28.6667], "nice": false, "zero": false},
              "axis": {"orient": "top", "values": [2,2.3333,2.6667,3,3.3333,3.6667,4,4.3333,4.6667,5,5.3333,5.6667,6,6.3333,6.6667,7,7.3333,7.6667,8,8.3333,8.6667,9,9.3333,9.6667,10,10.3333,10.6667,11,11.3333,11.6667,12,12.3333,12.6667,13,13.3333,13.6667,14,14.3333,14.6667,15,15.3333,15.6667,16,16.3333,16.6667,17,17.3333,17.6667,18,18.3333,18.6667,19,19.3333,19.6667,20,20.3333,20.6667,21,21.3333,21.6667,22,22.3333,22.6667,23,23.3333,23.6667,24,24.3333,24.6667,25,25.3333,25.6667,26,26.3333,26.6667,27,27.3333,27.6667,28,28.3333,28.6667], "grid": true, "ticks": false, "labels": false, "domain": false, "title": null,
                "gridColor": {"condition": [{"test": "round((datum.value-2)*3)%10==0", "value": "#262626"}, {"test": "round((datum.value-2)*3)%5==0", "value": "#444444"}], "value": "#7a7a7a"},
                "gridDash": {"condition": [{"test": "round((datum.value-2)*3)%10==0", "value": []}, {"test": "round((datum.value-2)*3)%5==0", "value": [6, 2]}], "value": [1.2, 2.2]},
                "gridWidth": {"condition": {"test": "round((datum.value-2)*3)%10==0", "value": 1.1}, "value": 1}}},
            "y": {"field": "count", "type": "quantitative", "scale": {"domain": [0, 18.7455], "nice": false},
              "axis": {"orient": "right", "values": [0.881,1.881,2.881,3.881,4.881,5.881,6.881,7.881,8.881,9.881,10.881,11.881,12.881,13.881,14.881,15.881,16.881,17.881], "grid": true, "ticks": false, "labels": false, "domain": false, "title": null,
                "gridColor": {"condition": [{"test": "round(180.881-datum.value)%10==0", "value": "#262626"}, {"test": "round(180.881-datum.value)%5==0", "value": "#444444"}], "value": "#7a7a7a"},
                "gridDash": {"condition": [{"test": "round(180.881-datum.value)%10==0", "value": []}, {"test": "round(180.881-datum.value)%5==0", "value": [6, 2]}], "value": [1.2, 2.2]},
                "gridWidth": {"condition": {"test": "round(180.881-datum.value)%10==0", "value": 1.1}, "value": 1}}}
          }
        },
        {
          "data": {"values": [{}]},
          "mark": {"type": "rule", "color": "black", "strokeWidth": 2.6},
          "encoding": {
            "x": {"datum": 2, "type": "quantitative", "scale": {"domain": [2, 28.6667], "nice": false, "zero": false}, "axis": {"orient": "bottom", "values": [10, 20], "labels": false, "tickSize": 16, "tickWidth": 2.6, "tickColor": "black", "grid": false, "domain": true, "domainWidth": 3, "domainColor": "black", "title": null, "zindex": 1}},
            "y": {"datum": 0, "type": "quantitative", "scale": {"domain": [0, 18.7455], "nice": false}, "axis": {"orient": "left", "values": [5, 10], "labelExpr": "datum.value == 10 ? datum.label : ''", "tickSize": -12, "tickWidth": 2.5, "tickColor": "black", "domain": false, "grid": false, "labelPadding": 16, "title": null, "zindex": 1}},
            "y2": {"datum": 11.3}
          }
        },
        {
          "data": {"values": [{}]},
          "mark": {"type": "rule", "color": "black", "strokeWidth": 2.6},
          "encoding": {
            "x": {"datum": 2, "type": "quantitative", "scale": {"domain": [2, 28.6667], "nice": false, "zero": false}, "axis": {"orient": "top", "values": [10, 20], "labels": false, "tickSize": -16, "tickWidth": 2.6, "tickColor": "black", "grid": false, "domain": false, "title": null, "zindex": 1}},
            "y": {"datum": 0, "type": "quantitative", "scale": {"domain": [0, 18.7455], "nice": false}, "axis": null},
            "y2": {"datum": 11.3}
          }
        },
        {
          "data": {"values": [{}]},
          "mark": {"type": "text"},
          "encoding": {"x": {"datum": 27.85, "type": "quantitative", "axis": null}, "y": {"datum": 13.53, "type": "quantitative", "axis": null}, "text": {"value": "10"}}
        }
      ],
      "resolve": {"axis": {"x": "independent", "y": "independent"}}
    },
    {
      "width": 666.67, "height": 157,
      "layer": [
        {
          "data": {"name": "hist"}, "transform": [{"filter": "datum.panel == 11"}],
          "mark": {"type": "line", "interpolate": "step-after", "color": "black", "strokeWidth": 2.8},
          "encoding": {
            "x": {"field": "bin", "type": "quantitative", "scale": {"domain": [2, 28.6667], "nice": false, "zero": false},
              "axis": {"orient": "top", "values": [2,2.3333,2.6667,3,3.3333,3.6667,4,4.3333,4.6667,5,5.3333,5.6667,6,6.3333,6.6667,7,7.3333,7.6667,8,8.3333,8.6667,9,9.3333,9.6667,10,10.3333,10.6667,11,11.3333,11.6667,12,12.3333,12.6667,13,13.3333,13.6667,14,14.3333,14.6667,15,15.3333,15.6667,16,16.3333,16.6667,17,17.3333,17.6667,18,18.3333,18.6667,19,19.3333,19.6667,20,20.3333,20.6667,21,21.3333,21.6667,22,22.3333,22.6667,23,23.3333,23.6667,24,24.3333,24.6667,25,25.3333,25.6667,26,26.3333,26.6667,27,27.3333,27.6667,28,28.3333,28.6667], "grid": true, "ticks": false, "labels": false, "domain": false, "title": null,
                "gridColor": {"condition": [{"test": "round((datum.value-2)*3)%10==0", "value": "#262626"}, {"test": "round((datum.value-2)*3)%5==0", "value": "#444444"}], "value": "#7a7a7a"},
                "gridDash": {"condition": [{"test": "round((datum.value-2)*3)%10==0", "value": []}, {"test": "round((datum.value-2)*3)%5==0", "value": [6, 2]}], "value": [1.2, 2.2]},
                "gridWidth": {"condition": {"test": "round((datum.value-2)*3)%10==0", "value": 1.1}, "value": 1}}},
            "y": {"field": "count", "type": "quantitative", "scale": {"domain": [0, 18.902], "nice": false},
              "axis": {"orient": "right", "values": [0.783,1.783,2.783,3.783,4.783,5.783,6.783,7.783,8.783,9.783,10.783,11.783,12.783,13.783,14.783,15.783,16.783,17.783], "grid": true, "ticks": false, "labels": false, "domain": false, "title": null,
                "gridColor": {"condition": [{"test": "round(199.783-datum.value)%10==0", "value": "#262626"}, {"test": "round(199.783-datum.value)%5==0", "value": "#444444"}], "value": "#7a7a7a"},
                "gridDash": {"condition": [{"test": "round(199.783-datum.value)%10==0", "value": []}, {"test": "round(199.783-datum.value)%5==0", "value": [6, 2]}], "value": [1.2, 2.2]},
                "gridWidth": {"condition": {"test": "round(199.783-datum.value)%10==0", "value": 1.1}, "value": 1}}}
          }
        },
        {
          "data": {"values": [{}]},
          "mark": {"type": "rule", "color": "black", "strokeWidth": 2.6},
          "encoding": {
            "x": {"datum": 2, "type": "quantitative", "scale": {"domain": [2, 28.6667], "nice": false, "zero": false}, "axis": {"orient": "bottom", "values": [10, 20], "labels": false, "tickSize": 16, "tickWidth": 2.6, "tickColor": "black", "grid": false, "domain": true, "domainWidth": 3, "domainColor": "black", "title": null, "zindex": 1}},
            "y": {"datum": 0, "type": "quantitative", "scale": {"domain": [0, 18.902], "nice": false}, "axis": {"orient": "left", "values": [5, 10], "labelExpr": "datum.value == 10 ? datum.label : ''", "tickSize": -12, "tickWidth": 2.5, "tickColor": "black", "domain": false, "grid": false, "labelPadding": 16, "title": null, "zindex": 1}},
            "y2": {"datum": 10.96}
          }
        },
        {
          "data": {"values": [{}]},
          "mark": {"type": "rule", "color": "black", "strokeWidth": 2.6},
          "encoding": {
            "x": {"datum": 2, "type": "quantitative", "scale": {"domain": [2, 28.6667], "nice": false, "zero": false}, "axis": {"orient": "top", "values": [10, 20], "labels": false, "tickSize": -16, "tickWidth": 2.6, "tickColor": "black", "grid": false, "domain": false, "title": null, "zindex": 1}},
            "y": {"datum": 0, "type": "quantitative", "scale": {"domain": [0, 18.902], "nice": false}, "axis": null},
            "y2": {"datum": 10.96}
          }
        },
        {
          "data": {"values": [{}]},
          "mark": {"type": "text"},
          "encoding": {"x": {"datum": 27.33, "type": "quantitative", "axis": null}, "y": {"datum": 13.69, "type": "quantitative", "axis": null}, "text": {"value": "11"}}
        }
      ],
      "resolve": {"axis": {"x": "independent", "y": "independent"}}
    },
    {
      "width": 675, "height": 164.6,
      "layer": [
        {
          "data": {"name": "hist"}, "transform": [{"filter": "datum.panel == 12"}],
          "mark": {"type": "line", "interpolate": "step-after", "color": "black", "strokeWidth": 2.8},
          "encoding": {
            "x": {"field": "bin", "type": "quantitative", "scale": {"domain": [2, 29], "nice": false, "zero": false},
              "axis": {"orient": "top", "values": [2,2.3333,2.6667,3,3.3333,3.6667,4,4.3333,4.6667,5,5.3333,5.6667,6,6.3333,6.6667,7,7.3333,7.6667,8,8.3333,8.6667,9,9.3333,9.6667,10,10.3333,10.6667,11,11.3333,11.6667,12,12.3333,12.6667,13,13.3333,13.6667,14,14.3333,14.6667,15,15.3333,15.6667,16,16.3333,16.6667,17,17.3333,17.6667,18,18.3333,18.6667,19,19.3333,19.6667,20,20.3333,20.6667,21,21.3333,21.6667,22,22.3333,22.6667,23,23.3333,23.6667,24,24.3333,24.6667,25,25.3333,25.6667,26,26.3333,26.6667,27,27.3333,27.6667,28,28.3333,28.6667], "grid": true, "ticks": false, "labels": false, "domain": false, "title": null,
                "gridColor": {"condition": [{"test": "round((datum.value-2)*3)%10==0", "value": "#262626"}, {"test": "round((datum.value-2)*3)%5==0", "value": "#444444"}], "value": "#7a7a7a"},
                "gridDash": {"condition": [{"test": "round((datum.value-2)*3)%10==0", "value": []}, {"test": "round((datum.value-2)*3)%5==0", "value": [6, 2]}], "value": [1.2, 2.2]},
                "gridWidth": {"condition": {"test": "round((datum.value-2)*3)%10==0", "value": 1.1}, "value": 1}}},
            "y": {"field": "count", "type": "quantitative", "scale": {"domain": [0, 19.817], "nice": false},
              "axis": {"orient": "right", "values": [0.6,1.6,2.6,3.6,4.6,5.6,6.6,7.6,8.6,9.6,10.6,11.6,12.6,13.6,14.6,15.6,16.6,17.6,18.6], "grid": true, "ticks": false, "labels": false, "domain": false, "title": null,
                "gridColor": {"condition": [{"test": "round(219.6-datum.value)%10==0", "value": "#262626"}, {"test": "round(219.6-datum.value)%5==0", "value": "#444444"}], "value": "#7a7a7a"},
                "gridDash": {"condition": [{"test": "round(219.6-datum.value)%10==0", "value": []}, {"test": "round(219.6-datum.value)%5==0", "value": [6, 2]}], "value": [1.2, 2.2]},
                "gridWidth": {"condition": {"test": "round(219.6-datum.value)%10==0", "value": 1.1}, "value": 1}}}
          }
        },
        {
          "data": {"values": [{}]},
          "mark": {"type": "rule", "color": "black", "strokeWidth": 2.6},
          "encoding": {
            "x": {"datum": 2, "type": "quantitative", "scale": {"domain": [2, 29], "nice": false, "zero": false}, "axis": {"orient": "bottom", "values": [3,4,5,6,7,8,9,10,11,12,13,14,15,16,17,18,19,20,21,22,23,24,25,26,27,28,29], "labels": false, "tickSize": 15, "tickWidth": 2.6, "tickColor": "black", "grid": false, "domain": true, "domainWidth": 3, "domainColor": "black", "title": null, "zindex": 1}},
            "y": {"datum": 0, "type": "quantitative", "scale": {"domain": [0, 19.817], "nice": false}, "axis": {"orient": "left", "values": [5, 10], "labelExpr": "datum.value == 10 ? datum.label : ''", "tickSize": -12, "tickWidth": 2.5, "tickColor": "black", "domain": false, "grid": false, "labelPadding": 16, "title": null, "zindex": 1}},
            "y2": {"datum": 10.75}
          }
        },
        {
          "data": {"values": [{}]},
          "mark": {"type": "rule", "color": "black", "strokeWidth": 2.6},
          "encoding": {
            "x": {"datum": 2, "type": "quantitative", "scale": {"domain": [2, 29], "nice": false, "zero": false}, "axis": {"orient": "top", "values": [10, 20], "labels": false, "tickSize": -16, "tickWidth": 2.6, "tickColor": "black", "grid": false, "domain": false, "title": null, "zindex": 1}},
            "y": {"datum": 0, "type": "quantitative", "scale": {"domain": [0, 19.817], "nice": false}, "axis": null},
            "y2": {"datum": 10.75}
          }
        },
        {
          "data": {"values": [{}]},
          "mark": {"type": "text"},
          "encoding": {"x": {"datum": 27.53, "type": "quantitative", "axis": null}, "y": {"datum": 13.92, "type": "quantitative", "axis": null}, "text": {"value": "12"}}
        }
      ],
      "resolve": {"axis": {"x": "independent", "y": "independent"}}
    }
  ]
}
